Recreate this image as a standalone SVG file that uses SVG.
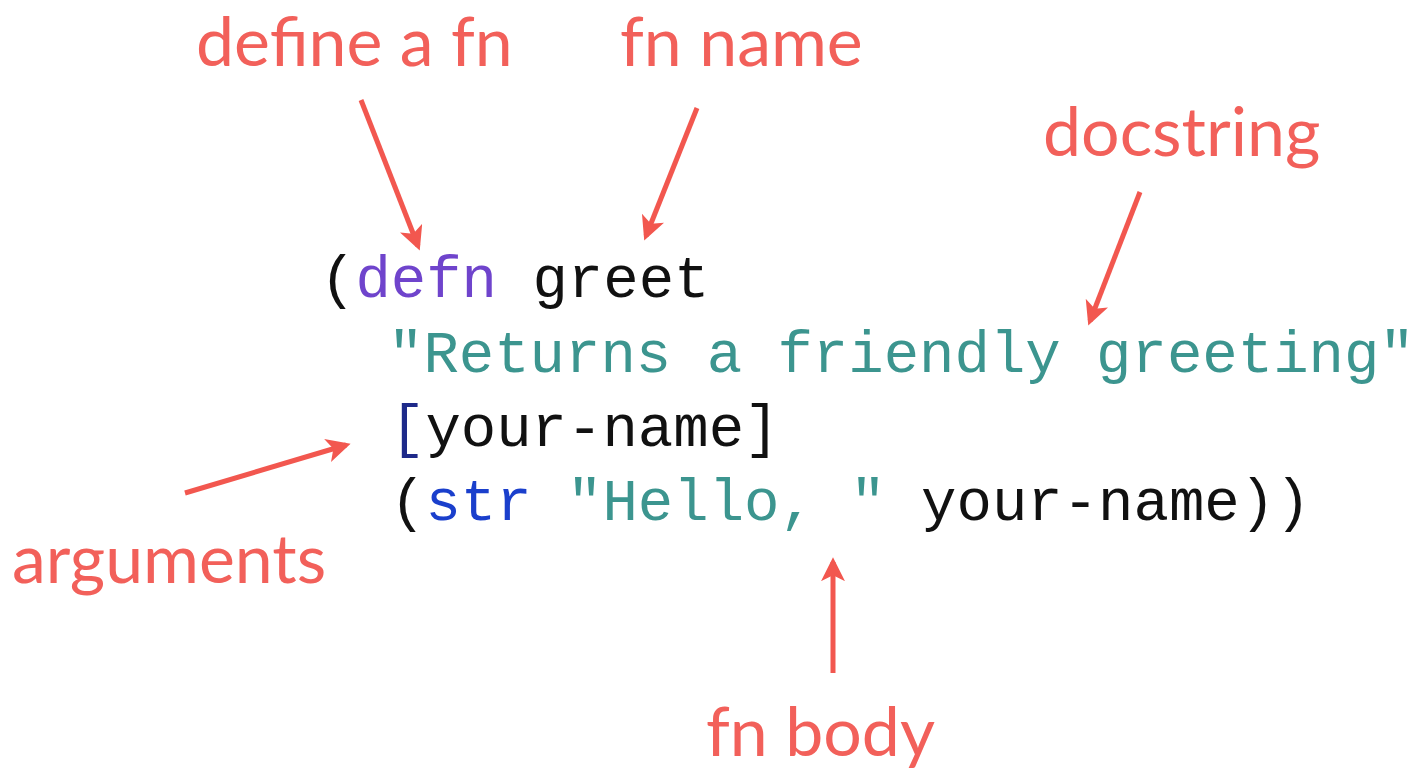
<svg xmlns="http://www.w3.org/2000/svg" width="1422" height="777" viewBox="0 0 1422 777">
<defs>
<style>
.lbl{font-family:Lato,"Open Sans","Liberation Sans",sans-serif;font-size:68px;fill:#f2605a}
.code{font-family:"Liberation Mono","DejaVu Sans Mono",monospace;font-size:59px;fill:#111}
.kw{fill:#6f44cc}
.str{fill:#3c958f}
.fn{fill:#1a3fcc}
.br{fill:#1e2a8a}
.arrow{stroke:#f2574f;stroke-width:5;fill:none;marker-end:url(#ah)}
</style>
<marker id="ah" viewBox="0 0 10 10" refX="8" refY="5" markerWidth="4.8" markerHeight="4.8" orient="auto" markerUnits="strokeWidth">
<path d="M0,0 L10,5 L0,10 L2.5,5 Z" fill="#f2574f"/>
</marker>
</defs>
<rect width="1422" height="777" fill="#fff"/>
<g id="code">
<text class="code" x="320" y="297" xml:space="preserve">(<tspan class="kw">defn</tspan> greet</text>
<text class="code str" x="388" y="372" xml:space="preserve">"Returns a friendly greeting"</text>
<text class="code" x="390" y="446" xml:space="preserve"><tspan class="br">[</tspan>your-name]</text>
<text class="code" x="390" y="520" xml:space="preserve">(<tspan class="fn">str</tspan> <tspan class="str">"Hello, "</tspan> your-name))</text>
</g>
<g id="label-define"><text class="lbl" x="196" y="66">define a fn</text></g>
<g id="label-name"><text class="lbl" x="620" y="66">fn name</text></g>
<g id="label-docstring"><text class="lbl" x="1043" y="156">docstring</text></g>
<g id="label-arguments"><text class="lbl" x="12" y="583">arguments</text></g>
<g id="label-body"><text class="lbl" x="706" y="756">fn body</text></g>
<g id="connectors">
<line class="arrow" x1="361" y1="100" x2="418" y2="246"/>
<line class="arrow" x1="697" y1="108" x2="646" y2="236"/>
<line class="arrow" x1="1140" y1="192" x2="1090" y2="321"/>
<line class="arrow" x1="185" y1="493" x2="346" y2="445"/>
<line class="arrow" x1="833" y1="673" x2="833" y2="562"/>
</g>
</svg>
